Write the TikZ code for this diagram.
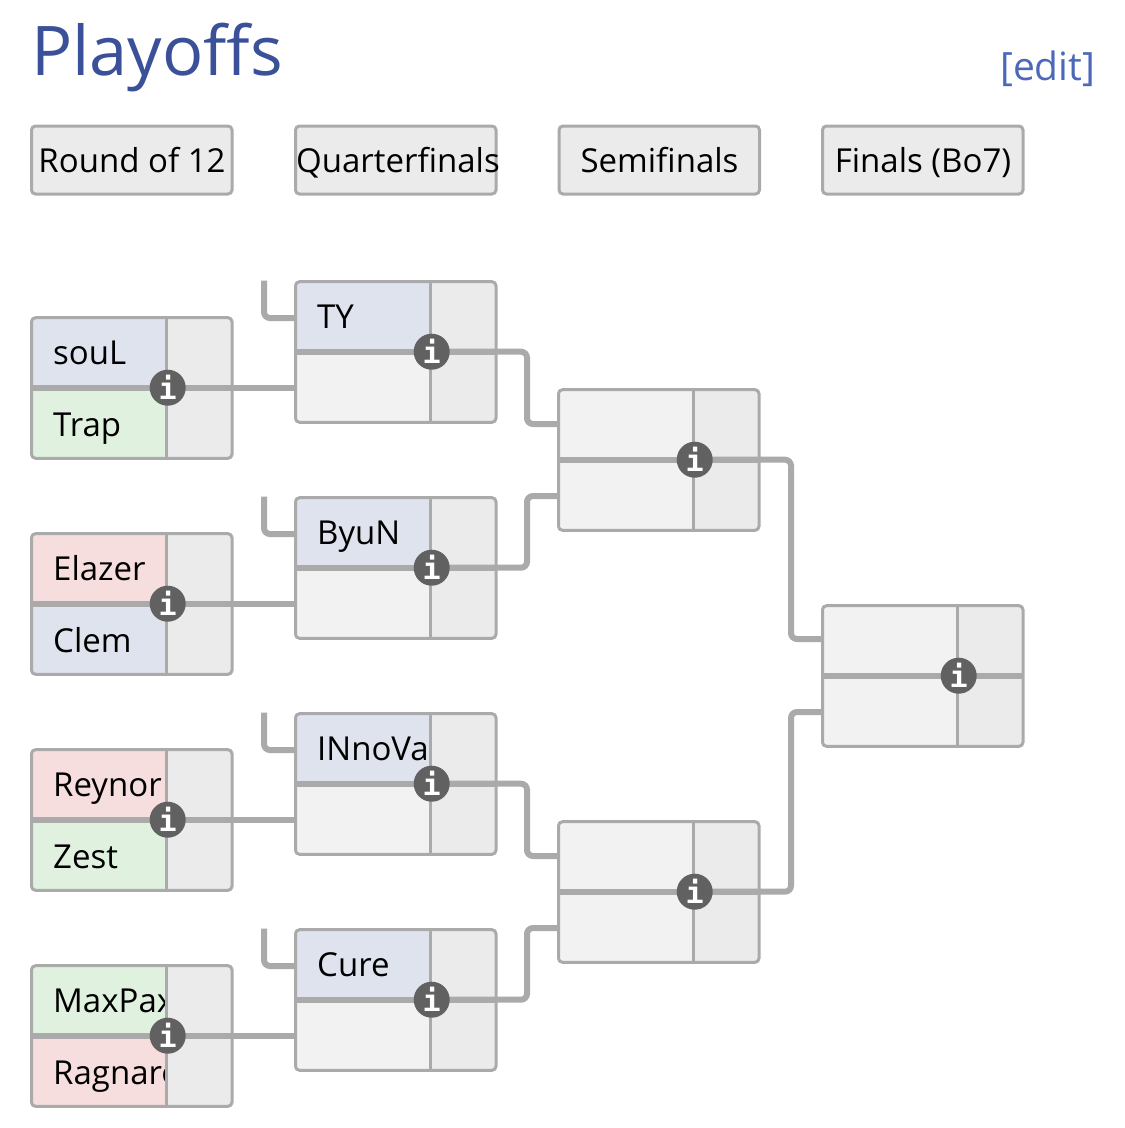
\documentclass[tikz,border=0pt]{standalone}
\usepackage{fontspec}
\setmainfont{Open Sans}
\newfontfamily\iconfont{DejaVu Sans Mono}[BoldFont={DejaVu Sans Mono Bold}]
\usetikzlibrary{calc}
\definecolor{rule}{HTML}{AAAAAA}
\definecolor{cellgrey}{HTML}{EBEBEB}
\definecolor{cellempty}{HTML}{F2F2F2}
\definecolor{cellblue}{HTML}{DFE3EE}
\definecolor{cellgreen}{HTML}{E1F1DF}
\definecolor{cellred}{HTML}{F7DEDE}
\definecolor{titleblue}{HTML}{3A5199}
\definecolor{editblue}{HTML}{4C68B8}
\definecolor{icongrey}{HTML}{616161}
\pgfdeclarelayer{cells}
\pgfdeclarelayer{links}
\pgfsetlayers{cells,links,main}
\tikzset{
  x=1pt,y=-1pt,
  framed/.style={draw=rule,line width=3pt,rounded corners=4pt,minimum width=200.5pt,inner sep=0pt},
  header/.style={framed,fill=cellgrey,minimum height=68pt},
  matchframe/.style={framed,minimum height=140.6pt},
  label/.style={anchor=base west,inner sep=0pt,text=black,font=\fontsize{33}{40}\selectfont},
  headtext/.style={anchor=base,inner sep=0pt,text=black,font=\fontsize{33}{40}\selectfont},
  infoicon/.style={circle,fill=icongrey,minimum size=36pt,inner sep=0pt,text=white,font=\iconfont\bfseries\fontsize{30}{30}\selectfont},
  link/.style={draw=rule,line width=6pt,rounded corners=6pt},
  hairline/.style={draw=rule,line width=3pt},
  midline/.style={draw=rule,line width=6pt}
}
% name, left, top, upper colour, lower colour, upper text, lower text
\newcommand{\matchcell}[7]{%
  \begin{pgfonlayer}{cells}
  \begin{scope}[shift={(#2,#3)}]
    \begin{scope}
      \clip[rounded corners=4pt] (0,0) rectangle (200.5,140.6);
      \fill[cellgrey] (0,0) rectangle (200.5,140.6);
      \fill[#4] (0,0) rectangle (135.2,70);
      \fill[#5] (0,70) rectangle (135.2,140.6);
      \clip (0,0) rectangle (135.2,140.6);
      \node[label] (#1u) at (21.5,46.6) {#6};
      \node[label] (#1l) at (21.5,118.4) {#7};
    \end{scope}
    \path[hairline] (135.2,0) -- (135.2,140.6);
    \path[midline] (0,70) -- (200.5,70);
    \node[matchframe] (#1) at (100.25,70.3) {};
  \end{scope}
  \end{pgfonlayer}
  \node[infoicon] (#1i) at ($(#2,#3)+(136.2,70)$) {\raisebox{-0.5pt}{i}};
}
\begin{document}
\begin{tikzpicture}
\useasboundingbox (0,0) rectangle (1125,1128);
\node[anchor=base west,inner sep=0pt,text=titleblue,font=\fontsize{68.5}{80}\selectfont] (title) at (31,75) {Playoffs};
\node[anchor=base east,inner sep=0pt,text=editblue,font=\fontsize{39}{44}\selectfont] (edit) at (1095.5,80) {[edit]};

\node[header] (h1) at (131.75,160) {};
\node[header] (h2) at (395.75,160) {};
\node[header] (h3) at (659.25,160) {};
\node[header] (h4) at (922.75,160) {};
\node[headtext] (t1) at (132,172) {Round of 12};
\node[headtext] (t2) at (398,172) {Quarterfinals};
\node[headtext] (t3) at (659.5,172) {Semifinals};
\node[headtext] (t4) at (923,172) {Finals (Bo7)};

\matchcell{ra}{31.5}{317.7}{cellblue}{cellgreen}{souL}{Trap}
\matchcell{rb}{31.5}{533.7}{cellred}{cellblue}{Elazer}{Clem}
\matchcell{rc}{31.5}{749.7}{cellred}{cellgreen}{Reynor}{Zest}
\matchcell{rd}{31.5}{965.7}{cellgreen}{cellred}{MaxPax}{Ragnarok}
\matchcell{qa}{295.5}{281.7}{cellblue}{cellempty}{TY}{}
\matchcell{qb}{295.5}{497.7}{cellblue}{cellempty}{ByuN}{}
\matchcell{qc}{295.5}{713.7}{cellblue}{cellempty}{INnoVa}{}
\matchcell{qd}{295.5}{929.7}{cellblue}{cellempty}{Cure}{}
\matchcell{sa}{558.5}{389.7}{cellempty}{cellempty}{}{}
\matchcell{sb}{558.5}{821.7}{cellempty}{cellempty}{}{}
\matchcell{fa}{822.5}{605.7}{cellempty}{cellempty}{}{}

\coordinate (qaf) at (264,280.5);
\coordinate (qbf) at (264,496.5);
\coordinate (qcf) at (264,712.5);
\coordinate (qdf) at (264,928.5);
\coordinate (saa) at (559,424);
\coordinate (sab) at (559,496);
\coordinate (sba) at (559,856);
\coordinate (sbb) at (559,928);
\coordinate (faa) at (823,639);
\coordinate (fab) at (823,712);

\begin{pgfonlayer}{links}
\path[link] (qaf) |- (296,318);
\path[link] (qbf) |- (296,534);
\path[link] (qcf) |- (296,750);
\path[link] (qdf) |- (296,966);
\path[link] (rai.center) -- (rai.center -| qa.west);
\path[link] (rbi.center) -- (rbi.center -| qb.west);
\path[link] (rci.center) -- (rci.center -| qc.west);
\path[link] (rdi.center) -- (rdi.center -| qd.west);
\path[link] (qai.center) -- (527,351.7) -- (527,424) -- (saa);
\path[link] (qbi.center) -- (527,567.7) -- (527,496) -- (sab);
\path[link] (qci.center) -- (527,783.7) -- (527,856) -- (sba);
\path[link] (qdi.center) -- (527,999.7) -- (527,928) -- (sbb);
\path[link] (sai.center) -- (791,459.7) -- (791,639) -- (faa);
\path[link] (sbi.center) -- (791,891.7) -- (791,712) -- (fab);
\end{pgfonlayer}
\end{tikzpicture}
\end{document}
